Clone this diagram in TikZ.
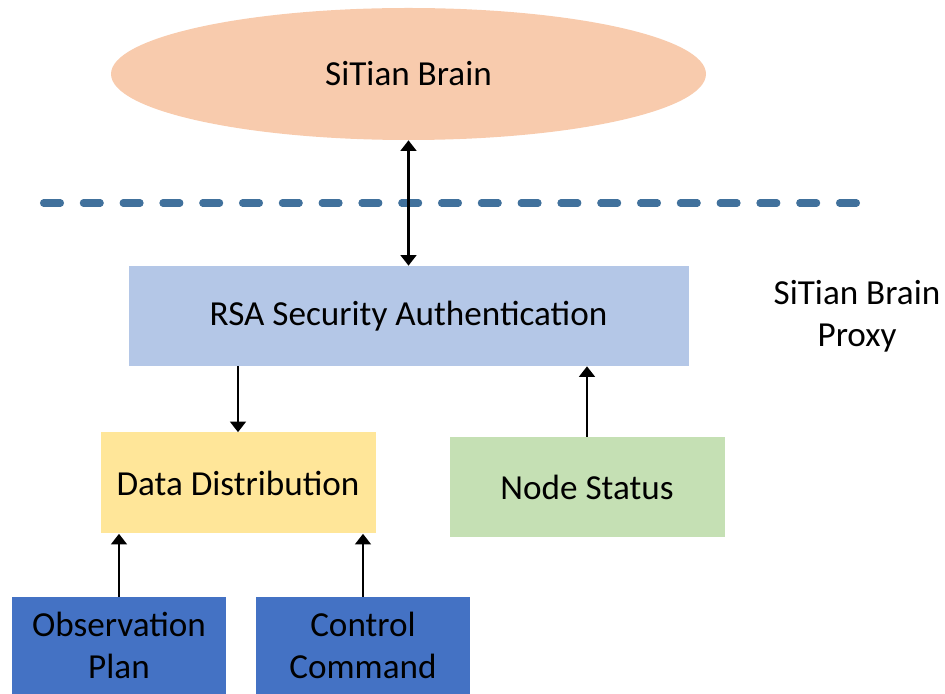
\documentclass[tikz,border=0pt]{standalone}
\usepackage{fontspec}
\setmainfont{Carlito}
\usetikzlibrary{arrows.meta,shapes.geometric}
\definecolor{brainfill}{HTML}{F8CBAD}
\definecolor{rsafill}{HTML}{B4C7E7}
\definecolor{ddfill}{HTML}{FFE699}
\definecolor{nsfill}{HTML}{C5E0B4}
\definecolor{srcfill}{HTML}{4472C4}
\definecolor{dashblue}{HTML}{41719C}
\tikzstyle{box}=[rectangle, draw=none, text centered, align=center,
    font=\fontsize{20}{24}\selectfont]
\tikzstyle{link}=[line width=1.2pt, -{Triangle[length=6pt,width=9pt]}]

\begin{document}
\begin{tikzpicture}
  \useasboundingbox (0,0) rectangle (18.9,13.88);
  \node[box, ellipse, fill=brainfill, minimum width=11.9cm, minimum height=2.64cm] at (8.17, 12.4) (brain) {SiTian Brain};
  \draw[dashblue, line width=4pt, line cap=round, dash pattern=on 0.34cm off 0.456cm] (0.87, 9.82) -- (17.13, 9.82);
  \node[fill=rsafill, minimum width=11.2cm, minimum height=2cm] at (8.17, 7.56) (rsa)[box] {RSA Security Authentication};
  \node at (17.14, 7.56) (proxy)[box] {SiTian Brain\\Proxy};
  \node[fill=ddfill, minimum width=5.5cm, minimum height=2.02cm] at (4.76, 4.22) (dd)[box] {Data Distribution};
  \node[fill=nsfill, minimum width=5.5cm, minimum height=2cm] at (11.74, 4.14) (ns)[box] {Node Status};
  \node[fill=srcfill, minimum width=4.28cm, minimum height=1.94cm] at (2.38, 0.97) (obs)[box] {Observation\\Plan};
  \node[fill=srcfill, minimum width=4.28cm, minimum height=1.94cm] at (7.26, 0.97) (ctrl)[box] {Control\\Command};

  \draw[link, {Triangle[length=6pt,width=9pt]}-{Triangle[length=6pt,width=9pt]}] (brain.south) -- (rsa.north);
  \draw[link] (rsa.south -| dd.north) -- (dd.north);
  \draw[link] (ns.north) -- (ns.north |- rsa.south);
  \draw[link] (obs.north) -- (obs.north |- dd.south);
  \draw[link] (ctrl.north) -- (ctrl.north |- dd.south);
\end{tikzpicture}
\end{document}
